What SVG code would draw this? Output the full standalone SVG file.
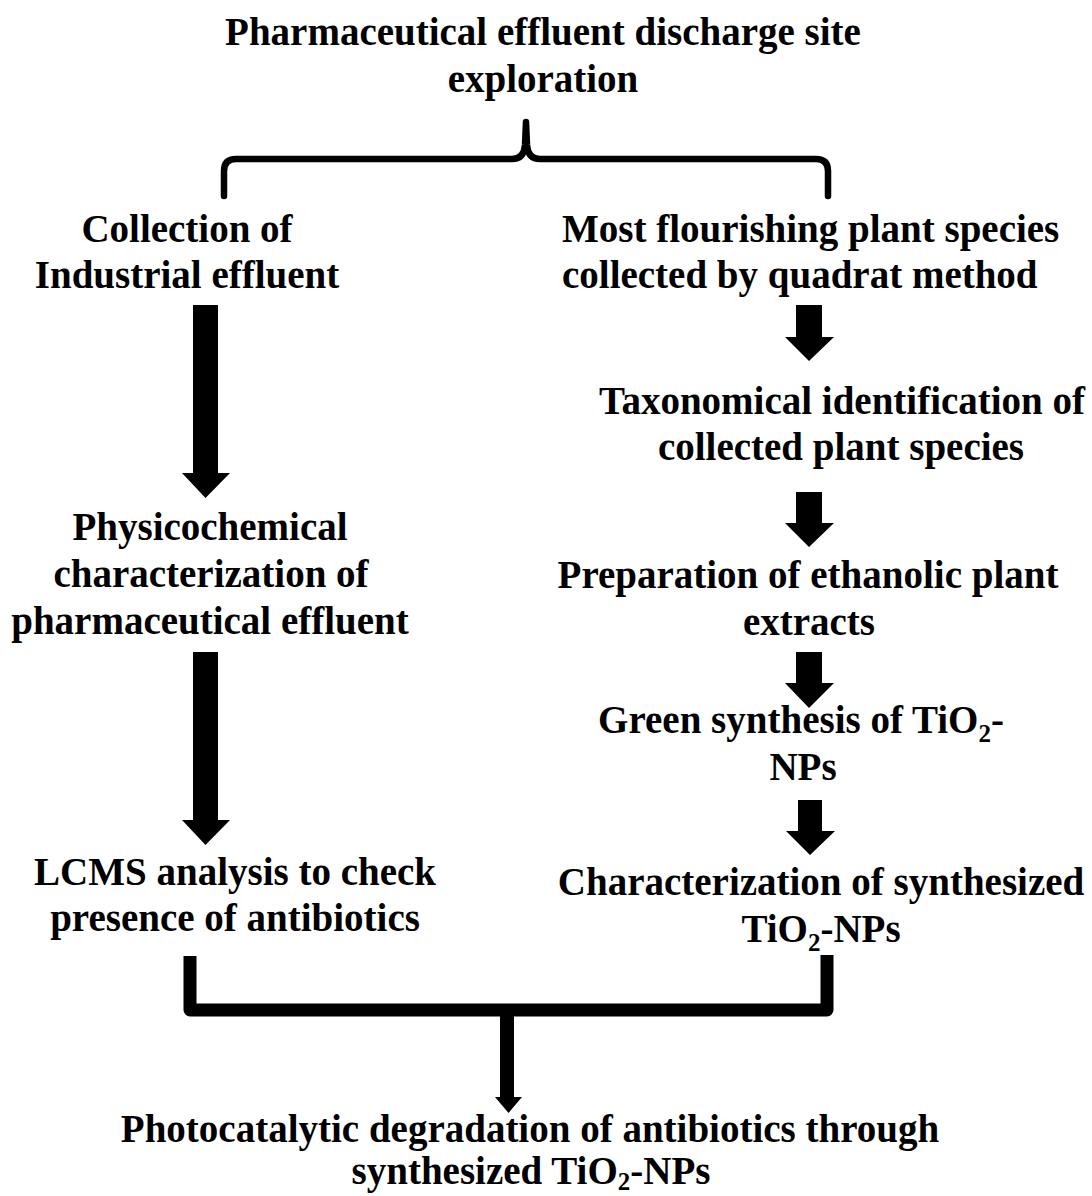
<svg xmlns="http://www.w3.org/2000/svg" width="1092" height="1196" viewBox="0 0 1092 1196">
<defs>
<style>
text{font-family:"Liberation Serif","Times New Roman",serif;font-weight:bold;font-size:39px;fill:#000;text-anchor:middle}
.sub{font-size:25px}
.arrow{fill:#000}
.line{fill:none;stroke:#000;stroke-width:6.5;stroke-linejoin:round;stroke-linecap:round}
</style>
</defs>
<rect width="1092" height="1196" fill="#fff"/>
<g id="connectors">
<path class="line" d="M224,196 V171 Q224,159 236,159 H512 Q524,159 525,145 L526,122 L527,145 Q528,159 540,159 H816 Q828,159 828,171 V196"/>
<path class="arrow" d="M193,305 H218 V473 H230 L205.5,498 L182,473 H193 Z"/>
<path class="arrow" d="M193,652 H218 V820 H230 L205.5,845 L182,820 H193 Z"/>
<path class="arrow" d="M796,305 H822 V337 H834 L809,361 L785,337 H796 Z"/>
<path class="arrow" d="M796,492 H822 V523 H834 L809,547 L785,523 H796 Z"/>
<path class="arrow" d="M796,652 H822 V683 H834 L809,708 L785,683 H796 Z"/>
<path class="arrow" d="M798,800 H822 V831 H835 L810,855 L786,831 H798 Z"/>
<path d="M190,956 V1010 H827 V955" fill="none" stroke="#000" stroke-width="13" stroke-linejoin="round"/>
<path class="arrow" d="M500,1012 H514 V1097 H522 L508.5,1113 L495,1097 H500 Z"/>
</g>
<g id="n-top"><text x="543" y="45">Pharmaceutical effluent discharge site</text><text x="543" y="92">exploration</text></g>
<g id="n-collection"><text x="187" y="242">Collection of</text><text x="187" y="288">Industrial effluent</text></g>
<g id="n-plant"><text x="562" y="242" style="text-anchor:start">Most flourishing plant species</text><text x="562" y="288" style="text-anchor:start">collected by quadrat method</text></g>
<g id="n-taxo"><text x="842" y="414">Taxonomical identification of</text><text x="841" y="460">collected plant species</text></g>
<g id="n-physico"><text x="210" y="540">Physicochemical</text><text x="211" y="587">characterization of</text><text x="210" y="634">pharmaceutical effluent</text></g>
<g id="n-prep"><text x="808" y="588">Preparation of ethanolic plant</text><text x="809" y="635">extracts</text></g>
<g id="n-green"><text x="801" y="733">Green synthesis of TiO<tspan class="sub" dy="9">2</tspan><tspan dy="-9">-</tspan></text><text x="803" y="780">NPs</text></g>
<g id="n-lcms"><text x="235" y="885">LCMS analysis to check</text><text x="235" y="931">presence of antibiotics</text></g>
<g id="n-char"><text x="821" y="895">Characterization of synthesized</text><text x="821" y="942">TiO<tspan class="sub" dy="9">2</tspan><tspan dy="-9">-NPs</tspan></text></g>
<g id="n-photo"><text x="530" y="1142">Photocatalytic degradation of antibiotics through</text><text x="531" y="1184">synthesized TiO<tspan class="sub" dy="6">2</tspan><tspan dy="-6">-NPs</tspan></text></g>
</svg>
